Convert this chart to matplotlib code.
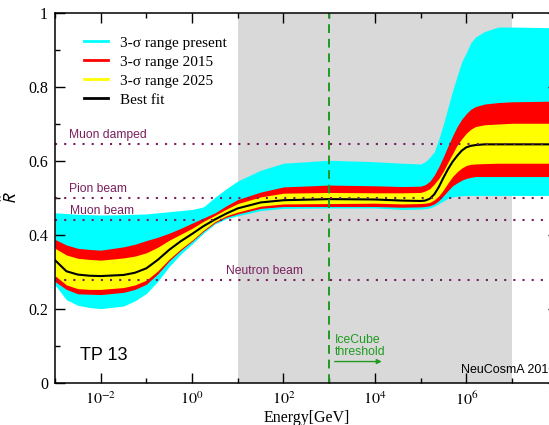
import numpy as np
import matplotlib
matplotlib.use("Agg")
import matplotlib.pyplot as plt
from matplotlib.ticker import FixedLocator, NullFormatter, FixedFormatter

plt.rcParams['mathtext.fontset'] = 'stix'

# log10 of neutrino energy in GeV
log_e = [-3, -2.75, -2.5, -2.25, -2, -1.5, -1.25, -1, -0.75, -0.5, -0.25, 0, 0.25, 0.5, 0.75,
         1, 1.5, 2, 3, 4, 4.6, 5, 5.1, 5.2, 5.3, 5.4, 5.5, 5.6, 5.7, 5.8, 5.9, 6, 6.1, 6.2,
         6.4, 6.7, 7, 8, 9]

best_fit = [0.332, 0.302, 0.293, 0.290, 0.289, 0.292, 0.298, 0.310, 0.333, 0.360, 0.383, 0.403,
            0.424, 0.442, 0.458, 0.472, 0.488, 0.494, 0.497, 0.496, 0.493, 0.492, 0.493, 0.498,
            0.510, 0.530, 0.555, 0.578, 0.598, 0.614, 0.628, 0.637, 0.641, 0.643, 0.645, 0.645,
            0.645, 0.645, 0.645]

present_hi = [0.460, 0.458, 0.456, 0.455, 0.454, 0.455, 0.456, 0.457, 0.460, 0.463, 0.466, 0.469,
              0.476, 0.502, 0.525, 0.546, 0.575, 0.594, 0.602, 0.598, 0.594, 0.592, 0.598, 0.610,
              0.625, 0.660, 0.700, 0.745, 0.790, 0.830, 0.868, 0.893, 0.920, 0.935, 0.950, 0.962,
              0.962, 0.960, 0.960]
present_lo = [0.265, 0.225, 0.210, 0.204, 0.201, 0.208, 0.222, 0.242, 0.275, 0.315, 0.348, 0.376,
              0.405, 0.430, 0.444, 0.452, 0.466, 0.472, 0.473, 0.473, 0.469, 0.470, 0.471, 0.473,
              0.478, 0.485, 0.492, 0.499, 0.503, 0.505, 0.506, 0.507, 0.507, 0.507, 0.507, 0.507,
              0.507, 0.507, 0.507]

r2015_hi = [0.388, 0.373, 0.364, 0.361, 0.359, 0.368, 0.375, 0.385, 0.394, 0.405, 0.418, 0.432,
            0.446, 0.460, 0.479, 0.496, 0.516, 0.530, 0.535, 0.533, 0.531, 0.532, 0.536, 0.545,
            0.562, 0.585, 0.612, 0.641, 0.668, 0.693, 0.713, 0.728, 0.740, 0.747, 0.754, 0.758,
            0.760, 0.762, 0.762]
r2015_lo = [0.274, 0.253, 0.241, 0.240, 0.239, 0.245, 0.253, 0.267, 0.295, 0.330, 0.358, 0.383,
            0.410, 0.433, 0.448, 0.457, 0.472, 0.477, 0.477, 0.477, 0.475, 0.476, 0.477, 0.479,
            0.484, 0.493, 0.506, 0.520, 0.533, 0.541, 0.548, 0.553, 0.556, 0.558, 0.558, 0.558,
            0.558, 0.558, 0.558]

r2025_hi = [0.364, 0.346, 0.337, 0.334, 0.332, 0.338, 0.343, 0.352, 0.367, 0.386, 0.402, 0.418,
            0.437, 0.453, 0.470, 0.485, 0.503, 0.513, 0.515, 0.514, 0.514, 0.515, 0.519, 0.525,
            0.538, 0.553, 0.573, 0.597, 0.620, 0.643, 0.660, 0.675, 0.686, 0.693, 0.698, 0.700,
            0.702, 0.702, 0.702]
r2025_lo = [0.290, 0.265, 0.255, 0.253, 0.253, 0.258, 0.265, 0.278, 0.303, 0.335, 0.362, 0.386,
            0.413, 0.436, 0.452, 0.462, 0.478, 0.484, 0.485, 0.486, 0.484, 0.485, 0.486, 0.488,
            0.495, 0.506, 0.522, 0.541, 0.558, 0.571, 0.581, 0.588, 0.591, 0.592, 0.593, 0.594,
            0.594, 0.594, 0.594]

# reference flavour ratios for pure source types
ref_names = ["Muon damped", "Pion beam", "Muon beam", "Neutron beam"]
ref_values = [0.645, 0.500, 0.440, 0.278]
ref_label_x = [2e-3, 2e-3, 2.1e-3, 5.5]

energy = 10.0 ** np.array(log_e)

fig = plt.figure(figsize=(5.49, 4.25), dpi=100)
ax = fig.add_axes([55 / 549, 42 / 425, 502.7 / 549, 370 / 425])
ax.set_xscale('log')
ax.set_xlim(1e-3, 1e8)
ax.set_ylim(0, 1)

# energy window and IceCube threshold
ax.axvspan(10, 1e7, color='#d9d9d9', lw=0, zorder=0)

ax.fill_between(energy, present_lo, present_hi, color='#00ffff', lw=0, zorder=1)
ax.fill_between(energy, r2015_lo, r2015_hi, color='#ff0000', lw=0, zorder=2)
ax.fill_between(energy, r2025_lo, r2025_hi, color='#ffff00', lw=0, zorder=3)
ax.plot(energy, best_fit, color='black', lw=1.5, zorder=4)

purple = '#7a1f5e'
for name, val, lx in zip(ref_names, ref_values, ref_label_x):
    ax.axhline(val, color=purple, lw=1.5, ls=(0, (1, 3.4)), zorder=5)
    ax.text(lx, val + 0.008, name, color=purple, fontsize=8.7,
            family='Liberation Sans', va='bottom', ha='left', zorder=6)

ax.axvline(1e3, color='#1f9a1f', lw=1.4, ls=(0, (4.5, 3)), zorder=6)
ax.text(10 ** 3.12, 0.132, "IceCube\nthreshold", color='#1f9a1f', fontsize=8.8,
        family='Liberation Sans', va='top', ha='left', linespacing=0.95)
ax.annotate("", xy=(10 ** 4.15, 0.058), xytext=(10 ** 3.12, 0.058),
            arrowprops=dict(arrowstyle='-|>', color='#1f9a1f', lw=1.0,
                            mutation_scale=7, shrinkA=0, shrinkB=0))

ax.text(10 ** -2.45, 0.075, "TP 13", fontsize=13, family='Liberation Sans', va='center')
ax.text(10 ** 5.88, 0.036, "NeuCosmA 2010", fontsize=9, family='Liberation Sans', va='center')

# legend
ax.plot([], [], color='#00ffff', lw=2, label='3-σ range present')
ax.plot([], [], color='#ff0000', lw=2, label='3-σ range 2015')
ax.plot([], [], color='#ffff00', lw=2, label='3-σ range 2025')
ax.plot([], [], color='black', lw=2, label='Best fit')
ax.legend(loc='upper left', bbox_to_anchor=(0.03, 0.975), frameon=False,
          prop={'family': 'Liberation Serif', 'size': 11},
          handlelength=1.6, handletextpad=0.8, labelspacing=0.35)

# ticks
major_x = [1e-2, 1e0, 1e2, 1e4, 1e6, 1e8]
ax.xaxis.set_major_locator(FixedLocator(major_x))
ax.xaxis.set_major_formatter(FixedFormatter([r'$10^{-2}$', r'$10^{0}$', r'$10^{2}$',
                                             r'$10^{4}$', r'$10^{6}$', '']))
ax.xaxis.set_minor_locator(FixedLocator([1e-3, 1e-1, 1e1, 1e3, 1e5, 1e7]))
ax.xaxis.set_minor_formatter(NullFormatter())
ax.yaxis.set_major_locator(FixedLocator([0, 0.2, 0.4, 0.6, 0.8, 1.0]))
ax.yaxis.set_major_formatter(FixedFormatter(['0', '0.2', '0.4', '0.6', '0.8', '1']))
ax.yaxis.set_minor_locator(FixedLocator([0.1, 0.3, 0.5, 0.7, 0.9]))
ax.tick_params(which='both', direction='in', top=True, right=True, width=1.0)
ax.tick_params(which='major', length=7, labelsize=11.5, pad=5)
ax.tick_params(which='minor', length=3.5)
for lab in ax.get_yticklabels():
    lab.set_family('Liberation Serif')
ax.tick_params(axis='x', pad=5)
for sp in ax.spines.values():
    sp.set_linewidth(1.1)
    sp.set_zorder(10)

ax.set_xlabel("Energy[GeV]", family='Liberation Serif', fontsize=11.5, labelpad=2)
ax.set_ylabel(r'$\hat{\mathsf{R}}$', fontsize=12, labelpad=5)

fig.savefig("out.png", dpi=100)
